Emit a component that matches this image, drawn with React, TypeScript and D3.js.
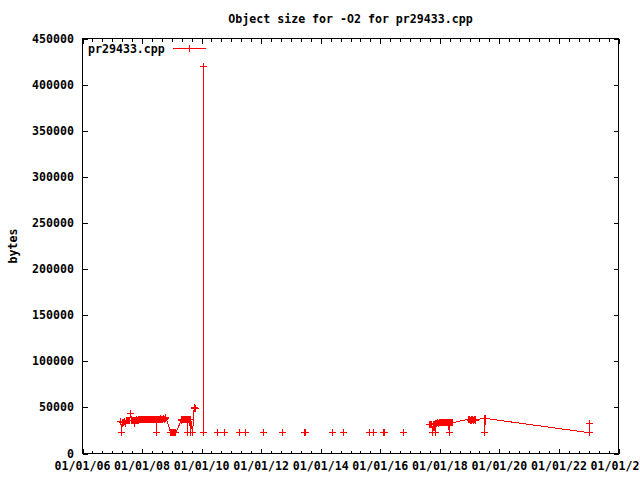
import { useEffect, useRef } from "react";
import * as d3 from "d3";

// 2007-2009 builds (connected)
const run1Dates = [
  "2007-04-16", "2007-04-27", "2007-05-04", "2007-05-14", "2007-05-24", "2007-06-03",
  "2007-06-13", "2007-06-23", "2007-07-03", "2007-07-13", "2007-07-23", "2007-08-02",
  "2007-08-16", "2007-08-26", "2007-09-05", "2007-09-15", "2007-09-25", "2007-10-05",
  "2007-10-15", "2007-10-25", "2007-11-04", "2007-11-14", "2007-11-24", "2007-12-04",
  "2007-12-14", "2007-12-24", "2008-01-03", "2008-01-13", "2008-01-23", "2008-02-02",
  "2008-02-12", "2008-02-22", "2008-03-03", "2008-03-13", "2008-03-23", "2008-04-02",
  "2008-04-12", "2008-04-22", "2008-05-02", "2008-05-12", "2008-05-22", "2008-06-01",
  "2008-06-11", "2008-06-21", "2008-06-27", "2008-07-01", "2008-07-11", "2008-07-21",
  "2008-07-31", "2008-08-10", "2008-08-20", "2008-08-30", "2008-09-09", "2008-09-19",
  "2008-09-29", "2008-10-09", "2008-10-21", "2008-12-17", "2008-12-27", "2009-01-06",
  "2009-01-26", "2009-02-05", "2009-02-17", "2009-04-25", "2009-05-05", "2009-05-15",
  "2009-05-25", "2009-06-04", "2009-06-14", "2009-06-24", "2009-07-04", "2009-07-12",
  "2009-07-16", "2009-07-26", "2009-08-05", "2009-08-18", "2009-08-22", "2009-09-12",
  "2009-10-01", "2009-10-11", "2009-10-21",
];
const run1Values = [
  35000, 22500, 33500, 34000, 33800, 34500,
  32500, 35500, 35800, 36000, 35500, 36200,
  43400, 35800, 36000, 35800, 32800, 36200,
  36000, 36400, 36200, 36500, 36300, 36600,
  36400, 36800, 36600, 36800, 37000, 36800,
  37100, 36900, 37200, 37000, 37200, 37000,
  37300, 37100, 37300, 37200, 37400, 37200,
  37300, 37100, 22500, 37300, 37200, 37400,
  37300, 37500, 37300, 37400, 37200, 37500,
  37300, 37600, 38700, 22800, 22500, 22600,
  22500, 22800, 22500, 35500, 36500, 37000,
  36500, 37000, 36800, 37200, 36800, 22500,
  36500, 37000, 36800, 22500, 36700, 22500,
  48500, 50000, 49300,
];

// the outlier (two builds on the same day)
const spikeDates = ["2010-01-28", "2010-01-28"];
const spikeValues = [420000, 22500];

// single unconnected builds
const loneDates = [
  "2010-07-20", "2010-10-11", "2011-04-13", "2011-06-19", "2011-06-29", "2012-02-04",
  "2012-09-24", "2013-06-14", "2013-06-26", "2014-05-30", "2014-10-07", "2015-08-28",
  "2015-10-08", "2016-02-10", "2016-02-22", "2016-10-14",
];
const loneValues = [
  22500, 22500, 22500, 22500, 22500, 22500,
  22500, 22500, 22500, 22500, 22500, 22500,
  22500, 22500, 22500, 22500,
];

// 2017-2023 builds (connected)
const run2Dates = [
  "2017-08-25", "2017-09-12", "2017-09-24", "2017-10-08", "2017-10-14", "2017-10-24",
  "2017-11-06", "2017-11-14", "2017-11-26", "2017-12-06", "2017-12-16", "2017-12-26",
  "2018-01-05", "2018-01-15", "2018-01-25", "2018-02-04", "2018-02-14", "2018-02-24",
  "2018-03-06", "2018-03-16", "2018-03-26", "2018-04-05", "2018-04-15", "2018-04-27",
  "2018-05-03", "2018-05-13", "2018-05-23", "2018-06-02", "2018-12-20", "2018-12-30",
  "2019-01-09", "2019-01-19", "2019-01-29", "2019-02-08", "2019-02-18", "2019-02-28",
  "2019-03-10", "2019-03-16", "2019-07-01", "2019-07-06", "2019-07-11", "2019-07-16",
  "2023-01-12", "2023-01-16",
];
const run2Values = [
  31400, 31000, 31300, 22500, 31000, 31500,
  22500, 32500, 33000, 33200, 33000, 33400,
  33200, 33500, 33300, 33400, 33200, 33500,
  33300, 33400, 33200, 33500, 33300, 22500,
  33400, 33200, 33500, 33300, 37200, 36500,
  36300, 36500, 36200, 36400, 36300, 36500,
  36300, 36400, 38300, 22500, 38300, 38000,
  22500, 32500,
];

const yTickValues = [0, 50000, 100000, 150000, 200000, 250000, 300000, 350000, 400000, 450000];
const xStart = "2006-01-01";
const xEnd = "2024-01-01";

export default function App() {
  const svgRef = useRef<SVGSVGElement>(null);

  useEffect(() => {
    if (!svgRef.current) return;
    const svg = d3.select(svgRef.current);
    svg.selectAll("*").remove();

    const width = 640;
    const height = 480;
    const left = 82.5, right = 618.5, top = 38.5, bottom = 453.5;
    const font = "'DejaVu Sans Mono', monospace";
    const red = "#ff0000";

    const parse = d3.timeParse("%Y-%m-%d");
    const x = d3
      .scaleTime()
      .domain([parse(xStart) as Date, parse(xEnd) as Date])
      .range([left, right]);
    const y = d3.scaleLinear().domain([0, 450000]).range([bottom, top]);

    svg.append("rect").attr("width", width).attr("height", height).attr("fill", "#fff");

    // ticks (mirrored on all four sides, like gnuplot)
    const ticks = svg.append("g").attr("stroke", "#000").attr("shape-rendering", "crispEdges");
    const major = x.ticks(d3.timeYear.every(2) as d3.TimeInterval);
    const minor = x.ticks(d3.timeMonth.every(4) as d3.TimeInterval);
    minor.forEach((d) => {
      const px = Math.round(x(d)) + 0.5;
      ticks.append("line").attr("x1", px).attr("x2", px).attr("y1", bottom).attr("y2", bottom - 3);
      ticks.append("line").attr("x1", px).attr("x2", px).attr("y1", top).attr("y2", top + 3);
    });
    major.forEach((d) => {
      const px = Math.round(x(d)) + 0.5;
      ticks.append("line").attr("x1", px).attr("x2", px).attr("y1", bottom).attr("y2", bottom - 5);
      ticks.append("line").attr("x1", px).attr("x2", px).attr("y1", top).attr("y2", top + 5);
    });
    yTickValues.forEach((v) => {
      const py = Math.round(y(v)) + 0.5;
      ticks.append("line").attr("x1", left).attr("x2", left + 5).attr("y1", py).attr("y2", py);
      ticks.append("line").attr("x1", right).attr("x2", right - 5).attr("y1", py).attr("y2", py);
    });

    // border
    svg
      .append("rect")
      .attr("x", left)
      .attr("y", top)
      .attr("width", right - left)
      .attr("height", bottom - top)
      .attr("fill", "none")
      .attr("stroke", "#000")
      .attr("shape-rendering", "crispEdges");

    const label = (sel: d3.Selection<SVGTextElement, unknown, null, undefined>) =>
      sel
        .attr("font-family", font)
        .attr("font-size", "11.6px")
        .attr("font-weight", "bold")
        .attr("fill", "#000");

    // tick labels
    yTickValues.forEach((v) => {
      svg.append("text").call(label)
        .attr("x", 74)
        .attr("y", y(v) + 4)
        .attr("text-anchor", "end")
        .text(String(v));
    });
    const fmt = d3.timeFormat("%m/%d/%y");
    major.forEach((d) => {
      svg.append("text").call(label)
        .attr("x", x(d))
        .attr("y", 470)
        .attr("text-anchor", "middle")
        .text(fmt(d));
    });

    // title and axis label
    svg.append("text").call(label)
      .attr("x", (left + right) / 2)
      .attr("y", 23)
      .attr("text-anchor", "middle")
      .text("Object size for -O2 for pr29433.cpp");
    svg.append("text").call(label)
      .attr("transform", `translate(17,${(top + bottom) / 2}) rotate(-90)`)
      .attr("text-anchor", "middle")
      .text("bytes");

    const cross = (cx: number, cy: number) =>
      `M${cx - 3.5},${cy}h7M${cx},${cy - 3.5}v7`;

    const line = d3
      .line<[Date, number]>()
      .x((d) => x(d[0]))
      .y((d) => y(d[1]));

    const runs: [string[], number[], boolean][] = [
      [run1Dates, run1Values, true],
      [spikeDates, spikeValues, true],
      [loneDates, loneValues, false],
      [run2Dates, run2Values, true],
    ];

    const data = svg.append("g").attr("shape-rendering", "crispEdges");
    runs.forEach(([dates, values, connect]) => {
      const pts: [Date, number][] = dates.map((s, i) => [parse(s) as Date, values[i]]);
      if (connect) {
        data.append("path")
          .datum(pts)
          .attr("fill", "none")
          .attr("stroke", red)
          .attr("stroke-width", 1)
          .attr("d", line);
      }
      data.append("path")
        .attr("fill", "none")
        .attr("stroke", red)
        .attr("stroke-width", 1)
        .attr("d", pts.map((p) => cross(x(p[0]), y(p[1]))).join(""));
    });

    // key
    svg.append("text").call(label)
      .attr("x", 88)
      .attr("y", 53)
      .text("pr29433.cpp");
    const key = svg.append("g").attr("stroke", red).attr("shape-rendering", "crispEdges");
    key.append("line").attr("x1", 173).attr("x2", 206).attr("y1", 48.5).attr("y2", 48.5);
    key.append("path").attr("fill", "none").attr("d", cross(189.5, 48.5));
  }, []);

  return (
    <svg
      ref={svgRef}
      width={640}
      height={480}
      style={{ position: "absolute", left: 0, top: 0, display: "block" }}
    />
  );
}
